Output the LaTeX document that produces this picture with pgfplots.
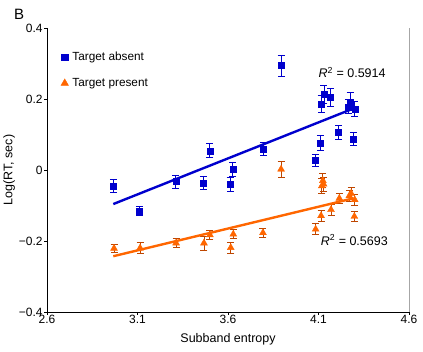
\documentclass[border=0pt]{standalone}
\usepackage{fontspec}
\setmainfont{Liberation Sans}
\usepackage{pgfplots}
\pgfplotsset{compat=1.18}
\usepackage{pgfplotstable}
\definecolor{cblue}{RGB}{0,0,205}
\definecolor{corange}{RGB}{255,102,0}
\definecolor{cbrown}{RGB}{190,70,0}
\pgfplotstableread{
x y e
2.966 -0.045 0.018
3.110 -0.116 0.013
3.311 -0.033 0.018
3.464 -0.036 0.018
3.500 0.054 0.020
3.611 -0.040 0.020
3.626 0.002 0.020
3.795 0.059 0.018
3.893 0.294 0.030
4.082 0.028 0.017
4.110 0.076 0.020
4.115 0.186 0.025
4.130 0.213 0.025
4.167 0.204 0.025
4.211 0.105 0.020
4.265 0.178 0.020
4.274 0.192 0.025
4.292 0.088 0.018
4.300 0.172 0.022
}\absent
\pgfplotstableread{
x y e
2.970 -0.221 0.012
3.114 -0.220 0.015
3.313 -0.206 0.012
3.467 -0.206 0.020
3.500 -0.183 0.012
3.615 -0.219 0.015
3.629 -0.181 0.013
3.793 -0.177 0.012
3.893 0.002 0.022
4.084 -0.167 0.015
4.114 -0.129 0.015
4.118 -0.045 0.020
4.124 -0.030 0.020
4.128 -0.040 0.020
4.169 -0.112 0.015
4.215 -0.080 0.015
4.270 -0.073 0.015
4.280 -0.066 0.018
4.300 -0.084 0.015
4.298 -0.131 0.015
}\present
\begin{document}
\begin{tikzpicture}
\begin{axis}[
  scale only axis,
  width=362pt, height=284pt,
  xmin=2.6, xmax=4.6, ymin=-0.4, ymax=0.4,
  axis lines=left,
  axis line style={-, line width=0.8pt},
  tick align=outside,
  major tick length=3pt,
  tick style={black, line width=0.8pt},
  xtick={2.6,3.1,3.6,4.1,4.6},
  xticklabels={2.6,3.1,3.6,4.1,4.6},
  ytick={-0.4,-0.2,0,0.2,0.4},
  yticklabels={−0.4,−0.2,0,0.2,0.4},
  ticklabel style={font=\fontsize{12}{13}\selectfont},
  xticklabel style={yshift=3pt},
  yticklabel style={xshift=2pt},
  xlabel={Subband entropy},
  ylabel={Log(RT, sec)},
  label style={font=\fontsize{12.5}{14}\selectfont},
  xlabel style={yshift=-3pt},
  ylabel style={yshift=-3pt},
  clip=false,
  legend style={at={(rel axis cs:0.038,0.922)}, anchor=north west, draw=none, fill=none,
    font=\fontsize{11.8}{13}\selectfont, row sep=12pt, inner sep=0pt},
  legend cell align=left,
  legend image code/.code={\draw[mark repeat=2,mark phase=2,#1] plot coordinates {(0cm,0cm) (0.1cm,0cm) (0.2cm,0cm)};},
]
\draw[gray!70, line width=1pt] (rel axis cs:1,0) -- (rel axis cs:1,1);
\addlegendimage{only marks, mark=square*, mark size=3.2pt, color=cblue}
\addlegendentry{\hspace{2pt}Target absent}
\addlegendimage{only marks, mark=triangle*, mark size=4.3pt, color=corange}
\addlegendentry{\hspace{2pt}Target present}
\addplot[forget plot, only marks, mark=square*, mark size=3pt, color=cblue,
  error bars/.cd, y dir=both, y explicit,
  error bar style={line width=0.9pt, color=cblue},
  error mark options={rotate=90, mark size=3.5pt, line width=0.9pt, color=cblue}]
  table[x=x, y=y, y error=e] {\absent};
\addplot[forget plot, only marks, mark=triangle*, mark size=4pt, color=corange,
  error bars/.cd, y dir=both, y explicit,
  error bar style={line width=0.9pt, color=cbrown},
  error mark options={rotate=90, mark size=3.5pt, line width=0.9pt, color=cbrown}]
  table[x=x, y=y, y error=e] {\present};
\addplot[forget plot, color=cblue, line width=2.4pt] coordinates {(2.966,-0.096) (4.292,0.173)};
\addplot[forget plot, color=corange, line width=2.4pt] coordinates {(2.966,-0.243) (4.292,-0.080)};
\node[anchor=west, font=\fontsize{12.5}{13}\selectfont, inner sep=0pt] at (axis cs:4.1,0.275) {\textit{R}\textsuperscript{2} = 0.5914};
\node[anchor=west, font=\fontsize{12.5}{13}\selectfont, inner sep=0pt] at (axis cs:4.112,-0.197) {\textit{R}\textsuperscript{2} = 0.5693};
\node[anchor=center, font=\fontsize{15}{16}\selectfont, inner sep=0pt] at ([shift={(-28pt,14pt)}]rel axis cs:0,1) {B};
\coordinate (o) at (rel axis cs:0,0);
\end{axis}
\path (o) ++(-47pt,-40pt) rectangle ++(423pt,352pt);
\end{tikzpicture}
\end{document}
